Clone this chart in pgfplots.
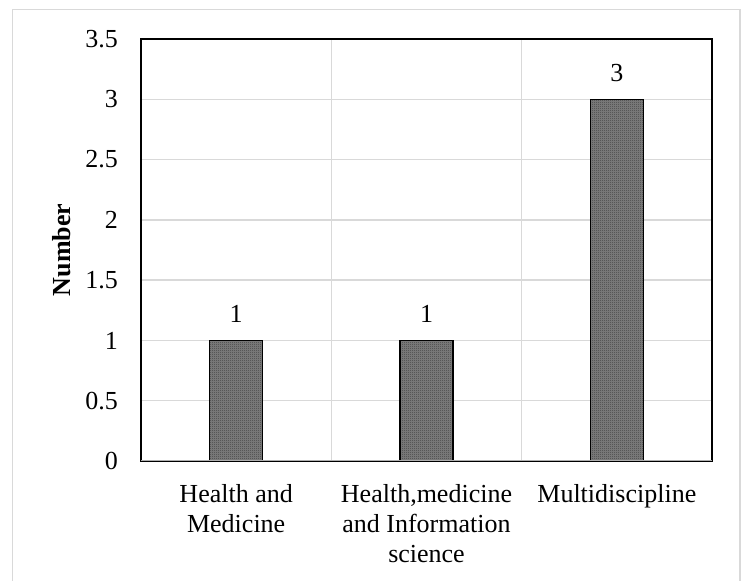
\documentclass[border=0pt]{standalone}
\usepackage{fontspec}
\setmainfont{Liberation Serif}
\usepackage{pgfplots}
\pgfplotsset{compat=1.18}
\usetikzlibrary{patterns}
\pgfdeclarepatternformonly{checker}{\pgfpointorigin}{\pgfpoint{2bp}{2bp}}{\pgfpoint{2bp}{2bp}}{%
  \pgfpathrectangle{\pgfpointorigin}{\pgfpoint{1bp}{1bp}}%
  \pgfpathrectangle{\pgfpoint{1bp}{1bp}}{\pgfpoint{1bp}{1bp}}%
  \pgfusepath{fill}}
\definecolor{gridgray}{HTML}{D9D9D9}
\begin{document}
\begin{tikzpicture}
\path[use as bounding box] (0,0) rectangle (744bp,581bp);
\draw[gridgray, line width=1.5bp] (12.7bp,-20bp) rectangle (740bp,571.5bp);
\begin{axis}[
  at={(141bp,120bp)}, anchor=south west,
  scale only axis, width=571bp, height=422bp,
  xmin=-0.5, xmax=2.5, ymin=0, ymax=3.5,
  ytick={0,0.5,...,3.5},
  xtick={0,1,2},
  xticklabels={{Health and\\Medicine},{Health,medicine\\and Information\\science},{Multidiscipline}},
  minor xtick={0.5,1.5},
  xminorgrids, ymajorgrids,
  grid style={gridgray, line width=1.5bp},
  minor grid style={gridgray, line width=1.5bp},
  major tick length=0pt, minor tick length=0pt,
  axis line style={black, line width=1.3bp},
  tick label style={font=\fontsize{26bp}{30bp}\selectfont},
  /pgf/number format/assume math mode=true,
  yticklabel style={anchor=east, inner sep=0pt, xshift=-23bp},
  xticklabel style={anchor=north, inner sep=0pt, yshift=-23bp, align=center},
  ylabel={\textbf{Number}},
  every axis y label/.style={at={(axis description cs:-0.1384,0.5)}, rotate=90, anchor=center, font=\fontsize{26bp}{30bp}\selectfont},
  nodes near coords,
  every node near coord/.append style={font=\fontsize{26bp}{30bp}\selectfont, inner sep=0pt, anchor=south, yshift=17bp, black},
]
\addplot[ybar, bar width=53bp, draw=black, line width=1.3bp, fill=black!50,
  postaction={pattern=checker, pattern color=black!75}]
  coordinates {(0,1) (1,1) (2,3)};
\draw[gridgray!80!black, line width=1.5bp] (axis cs:-0.5,0) -- (axis cs:2.5,0);
\end{axis}
\end{tikzpicture}
\end{document}
